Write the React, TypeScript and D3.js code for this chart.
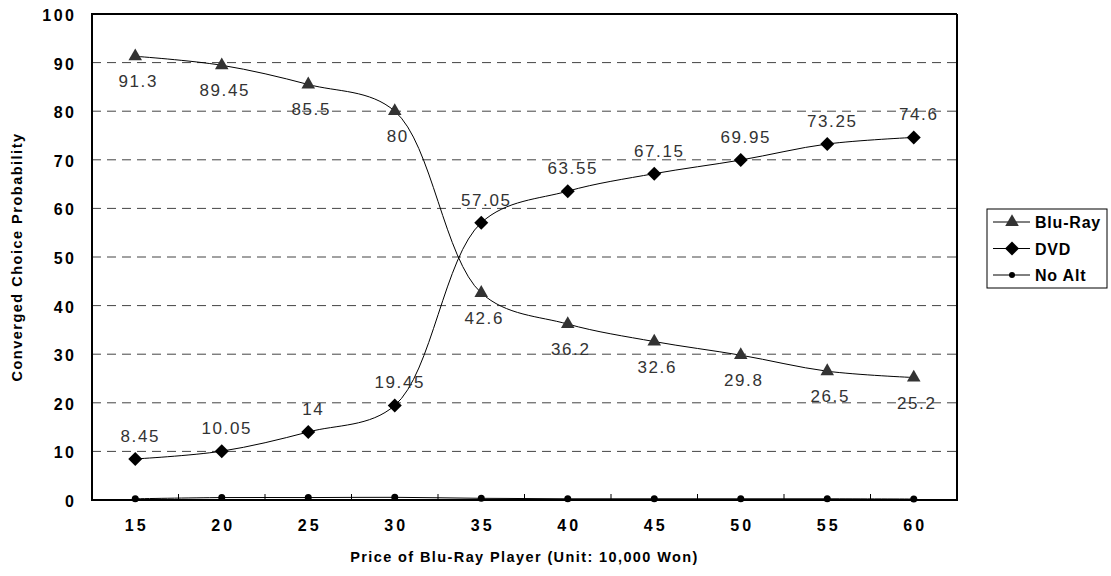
import React from "react";
import * as d3 from "d3";

const prices = [15, 20, 25, 30, 35, 40, 45, 50, 55, 60];
const bluRay = [91.3, 89.45, 85.5, 80, 42.6, 36.2, 32.6, 29.8, 26.5, 25.2];
const dvd = [8.45, 10.05, 14, 19.45, 57.05, 63.55, 67.15, 69.95, 73.25, 74.6];
const noAlt = [0.25, 0.5, 0.5, 0.55, 0.35, 0.25, 0.25, 0.25, 0.25, 0.2];
const yTicks = [0, 10, 20, 30, 40, 50, 60, 70, 80, 90, 100];

const W = 1111;
const H = 576;
const left = 92, right = 957, top = 14, bottom = 500;
const font = "'Liberation Sans', Arial, sans-serif";

const App: React.FC = () => {
  const xb = d3.scaleBand<number>().domain(prices).range([left, right]);
  const x = (p: number) => (xb(p) as number) + xb.bandwidth() / 2;
  const y = d3.scaleLinear().domain([0, 100]).range([bottom, top]);

  const line = d3
    .line<number>()
    .x((_, i) => x(prices[i]))
    .y(d => y(d))
    .curve(d3.curveCatmullRom.alpha(0.5));

  const tri = d3.symbol(d3.symbolTriangle, 80)() as string;
  const dia = d3.symbol(d3.symbolSquare, 98)() as string;

  const boundaries = prices.map(p => xb(p) as number).concat([right]);

  const series = [
    { name: "Blu-Ray", values: bluRay, marker: "tri" },
    { name: "DVD", values: dvd, marker: "dia" },
    { name: "No Alt", values: noAlt, marker: "dot" },
  ];

  const marker = (kind: string, cx: number, cy: number, small = false) => {
    if (kind === "tri") return <path d={tri} transform={`translate(${cx},${cy})`} fill="#333" />;
    if (kind === "dia") return <path d={dia} transform={`translate(${cx},${cy}) rotate(45)`} fill="#000" />;
    return <circle cx={cx} cy={cy} r={small ? 3 : 3.5} fill="#000" />;
  };

  return (
    <div style={{ position: "absolute", left: 0, top: 0 }}>
      <svg width={W} height={H} style={{ display: "block", background: "#fff" }} fontFamily={font}>
        {/* gridlines */}
        {yTicks.filter(t => t > 0 && t < 100).map(t => (
          <line key={t} x1={left} x2={right} y1={y(t)} y2={y(t)} stroke="#444" strokeWidth={1} strokeDasharray="9,6" />
        ))}
        {/* frame */}
        <line x1={left} x2={right} y1={top} y2={top} stroke="#000" strokeWidth={2} />
        <line x1={right} x2={right} y1={top} y2={bottom} stroke="#000" strokeWidth={2} />
        <line x1={left} x2={left} y1={top - 1} y2={bottom + 1} stroke="#000" strokeWidth={2} />
        <line x1={left} x2={right + 1} y1={bottom} y2={bottom} stroke="#000" strokeWidth={2} />
        {boundaries.map((b, i) => (
          <line key={i} x1={b} x2={b} y1={bottom} y2={bottom - 6} stroke="#000" strokeWidth={1} />
        ))}
        {/* y tick labels */}
        {yTicks.map(t => (
          <text key={t} x={74 + 2.5} y={y(t) + 7} textAnchor="end" fontSize={16} fontWeight="bold" letterSpacing={2.5}>
            {t}
          </text>
        ))}
        {/* x tick labels */}
        {prices.map(p => (
          <text key={p} x={x(p) + 1.5} y={530.5} textAnchor="middle" fontSize={16} fontWeight="bold" letterSpacing={3}>
            {p}
          </text>
        ))}
        <text x={(left + right) / 2} y={562} textAnchor="middle" fontSize={14.5} fontWeight="bold" letterSpacing={1.4}>
          Price of Blu-Ray Player (Unit: 10,000 Won)
        </text>
        <text
          transform={`translate(22,${(top + bottom) / 2}) rotate(-90)`}
          textAnchor="middle"
          fontSize={14.5}
          fontWeight="bold"
          letterSpacing={1.5}
        >
          Converged Choice Probability
        </text>
        {/* series */}
        {series.map(s => (
          <g key={s.name}>
            <path d={line(s.values) as string} fill="none" stroke="#000" strokeWidth={1} />
            {s.values.map((v, i) => (
              <g key={i}>{marker(s.marker, x(prices[i]), y(v))}</g>
            ))}
          </g>
        ))}
        {/* data labels */}
        {bluRay.map((v, i) => (
          <text key={"b" + i} x={x(prices[i]) + 3} y={y(v) + 31} textAnchor="middle" fontSize={17} letterSpacing={1.6} fill="#333">
            {v}
          </text>
        ))}
        {dvd.map((v, i) => (
          <text key={"d" + i} x={x(prices[i]) + 5} y={y(v) - 17} textAnchor="middle" fontSize={17} letterSpacing={1.6} fill="#333">
            {v}
          </text>
        ))}
        {/* legend */}
        <rect x={987} y={209} width={120} height={79} fill="#fff" stroke="#000" strokeWidth={1} />
        {series.map((s, i) => {
          const cy = 222 + i * 26.5;
          return (
            <g key={s.name}>
              <line x1={993} x2={1030} y1={cy} y2={cy} stroke="#000" strokeWidth={1} />
              {marker(s.marker, 1012, cy, true)}
              <text x={1035} y={cy + 6} fontSize={16} fontWeight="bold" letterSpacing={0.8}>
                {s.name}
              </text>
            </g>
          );
        })}
      </svg>
    </div>
  );
};

export default App;
